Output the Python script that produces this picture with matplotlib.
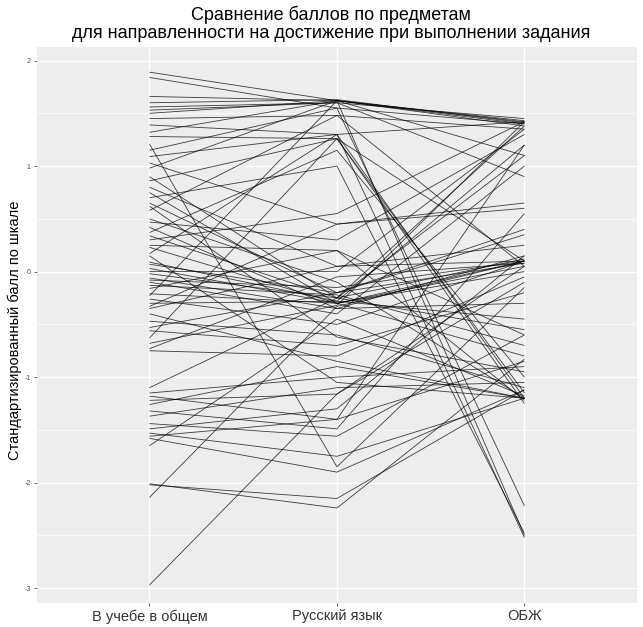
import matplotlib
matplotlib.use("Agg")
import matplotlib.pyplot as plt
import numpy as np

categories = ["В учебе в общем", "Русский язык", "ОБЖ"]

general = [1.89, 1.84, 1.66, 1.60, 1.56, 1.50, 1.45, 1.39, 1.32, 1.28, 1.21, 1.15, 1.09, 1.03,
           0.98, 0.90, 0.86, 0.80, 0.75, 0.70, 0.65, 0.58, 0.50, 0.47, 0.42, 0.37, 0.34, 0.30,
           0.25, 0.23, 0.17, 0.09, 0.07, 0.03, 0.00, -0.02, -0.06, -0.08, -0.10, -0.13, -0.16,
           -0.21, -0.23, -0.26, -0.30, -0.35, -0.47, -0.53, -0.56, -0.63, -0.68, -0.75, -1.10,
           -1.15, -1.22, -1.26, -1.32, -1.37, -1.44, -1.49, -1.53, -1.56, -1.58, -1.65, -2.01,
           -2.02, -2.14, -2.97, -0.73, 0.15, -0.40, 0.62, -1.18, 1.53, -0.33]
russian = [1.62, 1.55, 1.62, 1.63, 1.60, 1.62, 1.48, 1.30, 1.62, 1.26, -1.85, 1.55, 1.30, 0.45,
           1.62, -0.25, 1.26, 0.05, -0.30, 1.00, -0.20, 1.48, -0.10, 0.30, -0.35, 1.15, -0.25, 0.55,
           0.20, -0.30, 1.30, -0.28, -0.20, -0.30, 0.00, -0.25, -0.35, -0.15, -0.40, -0.22, 0.20,
           -0.30, 1.62, -0.50, -0.28, 0.05, -0.60, -0.20, -0.70, 1.26, -0.32, -0.80, -0.25,
           -1.00, -1.16, -0.90, -1.49, -1.10, -1.56, -1.30, -1.75, -1.40, -1.90, -0.45, -2.24,
           -2.15, -0.33, -1.16, -0.05, -1.05, -0.85, -0.62, -1.40, 1.60, 0.45]
obzh = [1.42, 1.40, 1.43, 1.41, 1.45, 1.38, 1.35, 1.42, -2.50, 0.10, -0.15, -2.22, -1.20, 0.60,
        1.10, 1.38, -1.15, 0.10, -0.80, -2.48, 0.35, 0.05, -1.20, 1.30, 0.15, -1.00, -0.55, 1.42,
        -0.60, 0.10, -2.52, 1.20, 0.08, 0.05, 1.35, 0.12, -0.30, 0.10, 1.00, -0.70, -1.22,
        0.00, 1.40, 0.10, -0.45, 0.25, -1.10, 0.40, -0.20, -1.25, 1.42, -0.05, 1.10,
        -0.90, 0.05, -1.20, 0.55, -1.05, -0.60, 0.15, -1.20, 1.20, -1.12, -1.18, -0.83,
        -1.12, 0.10, -0.10, 0.08, -1.20, -1.20, -0.95, -0.85, 0.90, 0.65]

y_ticks = [2, 1, 0, -1, -2, -3]
title = "Сравнение баллов по предметам\nдля направленности на достижение при выполнении задания"
ylabel = "Стандартизированный балл по шкале"

plt.rcParams['font.family'] = ['Liberation Sans', 'DejaVu Sans']

fig = plt.figure(figsize=(6.43, 6.27), dpi=100)
ax = fig.add_axes([0.0575, 0.0383, 0.933, 0.887])
ax.set_facecolor("#EDEDED")

xs = np.arange(1, len(categories) + 1)
for a, b, c in zip(general, russian, obzh):
    ax.plot(xs, [a, b, c], color="black", linewidth=0.6, alpha=0.75, solid_capstyle="butt")

ax.set_xlim(0.4, 3.6)
ax.set_ylim(-3.14, 2.13)
ax.set_xticks(xs)
ax.set_xticklabels(categories, fontsize=10.5, color="#333333")
ax.set_yticks(y_ticks)
ax.set_yticklabels([str(t) for t in y_ticks], fontsize=5, color="#4D4D4D")
ax.set_yticks(np.arange(-2.5, 2.0, 1.0), minor=True)
ax.grid(True, which="major", color="white", linewidth=1.0)
ax.grid(True, which="minor", axis="y", color="white", linewidth=0.5)
ax.set_axisbelow(True)
ax.tick_params(axis="both", which="major", length=2.5, width=0.5, color="#333333", pad=2)
ax.tick_params(axis="y", which="minor", length=0)
for s in ax.spines.values():
    s.set_visible(False)

fig.text(15 / 643, 1 - 330 / 627, ylabel, rotation=90, ha="center", va="center",
         fontsize=10.5, color="black")
fig.text(0.515, 0.962, title, ha="center", va="center", fontsize=13, linespacing=1.1)

fig.savefig("out.png", dpi=100)
